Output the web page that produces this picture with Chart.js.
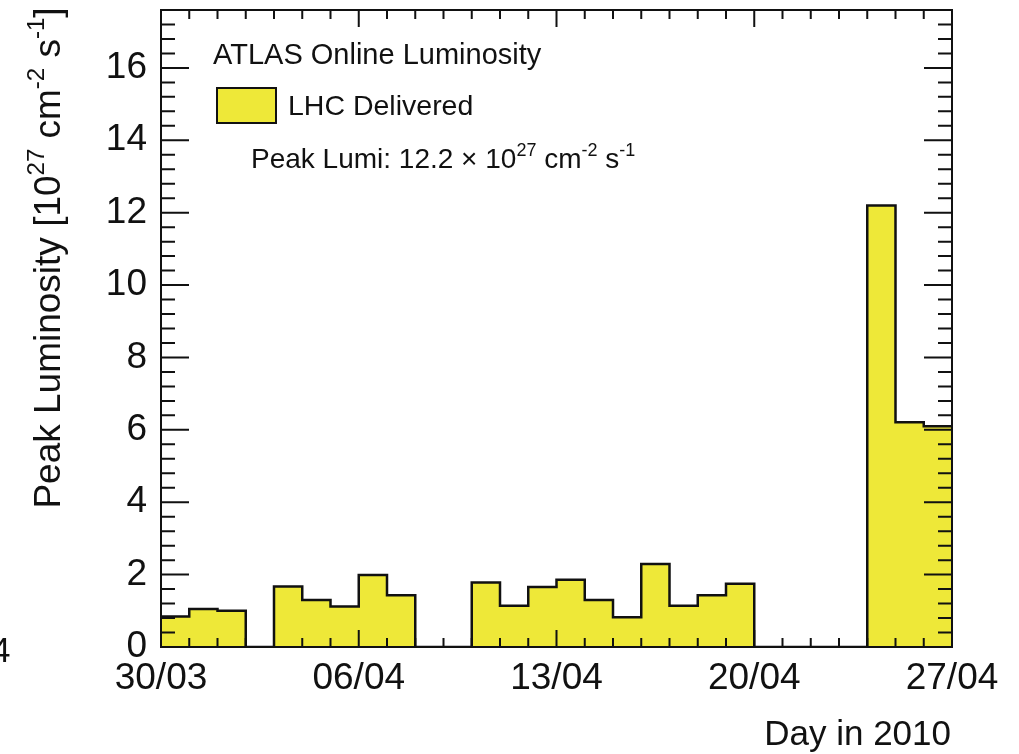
<!DOCTYPE html>
<html>
<head>
<meta charset="utf-8">
<script src="https://cdn.jsdelivr.net/npm/chart.js@4"></script>
<style>
  body { margin: 0; background: #fff; }
  #wrap { width: 1019px; height: 754px; }
</style>
</head>
<body>
<div id="wrap"><canvas id="myChart" width="1019" height="754"></canvas></div>
<script>
// one bin per day, from 30/03 to 26/04 (2010)
const days = ['30/03', '31/03', '01/04', '02/04', '03/04', '04/04', '05/04',
              '06/04', '07/04', '08/04', '09/04', '10/04', '11/04', '12/04',
              '13/04', '14/04', '15/04', '16/04', '17/04', '18/04', '19/04',
              '20/04', '21/04', '22/04', '23/04', '24/04', '25/04', '26/04'];
// peak luminosity per day [10^27 cm^-2 s^-1]
const peakLumi = [0.84, 1.05, 1.0, 0, 1.67, 1.30, 1.12,
                  1.99, 1.43, 0, 0, 1.78, 1.14, 1.66,
                  1.86, 1.30, 0.82, 2.29, 1.14, 1.43, 1.75,
                  0, 0, 0, 0, 12.2, 6.21, 6.10];
const tickDays = [0, 7, 14, 21, 28];
const tickLabels = ['30/03', '06/04', '13/04', '20/04', '27/04'];
const yTicks = [0, 2, 4, 6, 8, 10, 12, 14, 16];

const FONT = '"Liberation Sans", Arial, sans-serif';
const YELLOW = 'rgb(238,232,56)';

// histogram outline: left edge of every bin + closing point at the end
const histPoints = peakLumi.map((v, i) => ({ x: i, y: v }));
histPoints.push({ x: days.length, y: peakLumi[peakLumi.length - 1] });

function drawRich(ctx, parts, x, y, size) {
  let cx = x;
  parts.forEach(p => {
    let sup = p[1];
    ctx.font = (sup ? Math.round(size * 0.65) : size) + 'px ' + FONT;
    ctx.fillText(p[0], cx, sup ? y - size * 0.42 : y);
    cx += ctx.measureText(p[0]).width;
  });
  return cx - x;
}
function richWidth(ctx, parts, size) {
  let w = 0;
  parts.forEach(p => {
    ctx.font = (p[1] ? Math.round(size * 0.65) : size) + 'px ' + FONT;
    w += ctx.measureText(p[0]).width;
  });
  return w;
}

const rootStyle = {
  id: 'rootStyle',
  afterDatasetsDraw(chart) {
    const ctx = chart.ctx;
    const a = chart.chartArea;
    const xs = chart.scales.x, ys = chart.scales.y;
    ctx.save();
    ctx.strokeStyle = '#111';
    ctx.lineWidth = 2;
    // x ticks, bottom and top, pointing inward
    for (let d = 0; d <= days.length; d++) {
      let px = xs.getPixelForValue(d);
      let len = tickDays.includes(d) ? 17 : 9;
      ctx.beginPath();
      ctx.moveTo(px, a.bottom); ctx.lineTo(px, a.bottom - len);
      ctx.moveTo(px, a.top); ctx.lineTo(px, a.top + len);
      ctx.stroke();
    }
    // y ticks, left and right
    for (let k = 0; k <= 44; k++) {
      let v = k * 0.4;
      if (v > ys.max) break;
      let py = ys.getPixelForValue(v);
      let len = (k % 5 === 0) ? 28 : 14;
      ctx.beginPath();
      ctx.moveTo(a.left, py); ctx.lineTo(a.left + len, py);
      ctx.moveTo(a.right, py); ctx.lineTo(a.right - len, py);
      ctx.stroke();
    }
    ctx.strokeRect(a.left, a.top, a.right - a.left, a.bottom - a.top);

    // legend / labels inside the frame
    ctx.fillStyle = '#111';
    ctx.textBaseline = 'alphabetic';
    ctx.textAlign = 'left';
    ctx.font = '29px ' + FONT;
    ctx.fillText('ATLAS Online Luminosity', 213, 64);
    ctx.fillStyle = YELLOW;
    ctx.fillRect(217, 88, 59, 35);
    ctx.strokeRect(217, 88, 59, 35);
    ctx.fillStyle = '#111';
    ctx.font = '28.5px ' + FONT;
    ctx.fillText(chart.data.datasets[0].label, 288, 115);
    let peak = Math.max(...peakLumi).toFixed(1);
    drawRich(ctx, [['Peak Lumi: ' + peak + ' \u00d7 10'], ['27', 1], [' cm'], ['-2', 1], [' s'], ['-1', 1]], 251, 168, 28);

    // axis titles
    ctx.font = '35px ' + FONT;
    ctx.textAlign = 'right';
    ctx.fillText('Day in 2010', 951, 745);
    ctx.textAlign = 'left';
    let title = [['Peak Luminosity [10'], ['27', 1], [' cm'], ['-2', 1], [' s'], ['-1', 1], [']']];
    let w = richWidth(ctx, title, 37);
    ctx.translate(60, 258 + w / 2);
    ctx.rotate(-Math.PI / 2);
    drawRich(ctx, title, 0, 0, 37);
    ctx.restore();

    // clipped fragment at the left edge of the original picture
    ctx.save();
    ctx.fillStyle = '#111';
    ctx.font = '35px ' + FONT;
    ctx.fillText('4', -9, 662);
    ctx.restore();
  }
};

const ctx = document.getElementById('myChart');
new Chart(ctx, {
  type: 'line',
  data: {
    datasets: [{
      label: 'LHC Delivered',
      data: histPoints,
      stepped: true,
      fill: 'origin',
      backgroundColor: YELLOW,
      borderColor: '#111',
      borderWidth: 2.5,
      pointRadius: 0,
      tension: 0
    }]
  },
  options: {
    responsive: false,
    devicePixelRatio: 1,
    animation: false,
    layout: { padding: { top: 10, right: 67, left: 0, bottom: 0 } },
    plugins: { legend: { display: false }, tooltip: { enabled: false } },
    scales: {
      x: {
        type: 'linear',
        min: 0,
        max: days.length,
        grid: { display: false },
        border: { display: false },
        afterFit: s => { s.height = 107; },
        afterBuildTicks: s => { s.ticks = tickDays.map(v => ({ value: v })); },
        ticks: {
          autoSkip: false,
          maxRotation: 0,
          padding: 2,
          color: '#111',
          font: { family: FONT, size: 37 },
          callback: v => tickLabels[tickDays.indexOf(v)]
        }
      },
      y: {
        min: 0,
        max: 17.6,
        grid: { display: false },
        border: { display: false },
        afterFit: s => { s.width = 161; s.paddingTop = 0; s.paddingBottom = 0; },
        afterBuildTicks: s => { s.ticks = yTicks.map(v => ({ value: v })); },
        ticks: {
          padding: 6,
          color: '#111',
          font: { family: FONT, size: 37 }
        }
      }
    }
  },
  plugins: [rootStyle]
});
</script>
</body>
</html>
